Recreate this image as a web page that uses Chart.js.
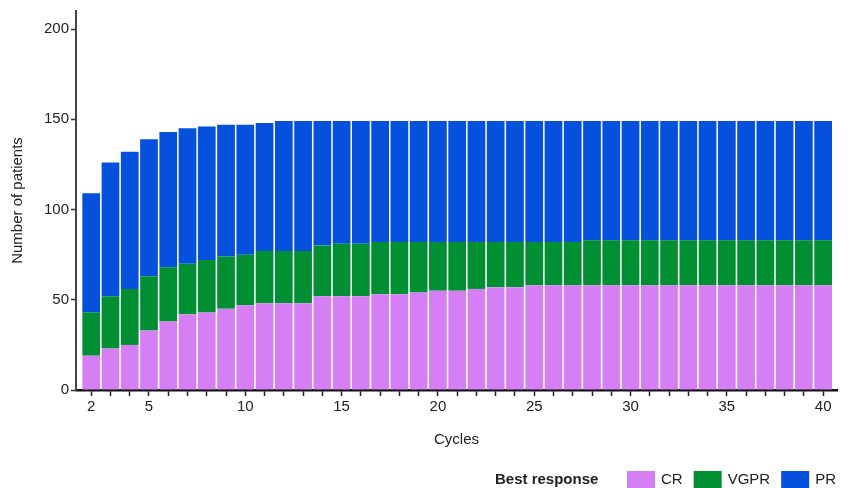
<!DOCTYPE html>
<html>
<head>
<meta charset="utf-8">
<script src="https://cdn.jsdelivr.net/npm/chart.js@4/dist/chart.umd.min.js"></script>
<style>
  html, body { margin: 0; padding: 0; background: #fff; }
  #wrap { width: 853px; height: 488px; }
</style>
</head>
<body>
<div id="wrap"><canvas id="c" width="853" height="488"></canvas></div>
<script>
// Treatment cycles
const cycles = [2,3,4,5,6,7,8,9,10,11,12,13,14,15,16,17,18,19,20,21,22,23,24,25,26,27,28,29,30,31,32,33,34,35,36,37,38,39,40];

// Patients by best response at each cycle
const crCounts   = [19,23,25,33,38,42,43,45,47,48,48,48,52,52,52,53,53,54,55,55,56,57,57,58,58,58,58,58,58,58,58,58,58,58,58,58,58,58,58];
const vgprCounts = [24,29,31,30,30,28,29,29,28,29,29,29,28,29,29,29,29,28,27,27,26,25,25,24,24,24,25,25,25,25,25,25,25,25,25,25,25,25,25];
const prCounts   = [66,74,76,76,75,75,74,73,72,71,72,72,69,68,68,67,67,67,67,67,67,67,67,67,67,67,66,66,66,66,66,66,66,66,66,66,66,66,66];

const xLabeled = [2,5,10,15,20,25,30,35,40];
const yTicks = [0,50,100,150,200];

const FONT = '"Liberation Sans", Arial, Helvetica, sans-serif';
const TEXT = '#222222';

const responseLegend = {
  id: 'responseLegend',
  afterDraw(chart) {
    const ctx = chart.ctx;
    ctx.save();
    ctx.textBaseline = 'middle';
    ctx.fillStyle = TEXT;
    ctx.font = 'bold 15px ' + FONT;
    ctx.textAlign = 'left';
    const cy = 480;
    ctx.fillText('Best response', 495, cy);
    ctx.font = '15px ' + FONT;
    let x = 627;
    chart.data.datasets.forEach(ds => {
      ctx.fillStyle = ds.backgroundColor;
      ctx.fillRect(x, cy - 9, 28, 19);
      x += 28 + 6;
      ctx.fillStyle = TEXT;
      ctx.fillText(ds.label, x, cy);
      x += ctx.measureText(ds.label).width + 11;
    });
    ctx.restore();
  }
};

new Chart(document.getElementById('c'), {
  type: 'bar',
  data: {
    labels: cycles,
    datasets: [
      { label: 'CR',   data: crCounts,   backgroundColor: '#d67ff5' },
      { label: 'VGPR', data: vgprCounts, backgroundColor: '#009033' },
      { label: 'PR',   data: prCounts,   backgroundColor: '#0550dc' }
    ]
  },
  options: {
    responsive: false,
    animation: false,
    layout: { padding: { top: 10, right: 16, left: 0, bottom: 0 } },
    datasets: { bar: { barPercentage: 0.92, categoryPercentage: 1, borderWidth: 0 } },
    plugins: { legend: { display: false }, tooltip: { enabled: false } },
    scales: {
      x: {
        type: 'linear',
        stacked: true,
        offset: false,
        min: 1.21,
        max: 40.72,
        afterFit(scale) { scale.height = 98; },
        grid: { offset: false, drawOnChartArea: false, drawTicks: true, tickLength: 6, tickColor: '#222', tickWidth: 1.5 },
        border: { display: true, color: '#111', width: 2.5 },
        ticks: {
          stepSize: 1,
          includeBounds: false,
          autoSkip: false,
          maxRotation: 0,
          padding: 2,
          color: TEXT,
          font: { family: FONT, size: 15 },
          callback: v => xLabeled.includes(v) ? String(v) : ''
        },
        title: { display: true, text: 'Cycles', color: TEXT, font: { family: FONT, size: 15 }, padding: { top: 0, bottom: 39 } }
      },
      y: {
        stacked: true,
        min: 0,
        max: 210,
        afterFit(scale) { scale.width = 76; },
        afterBuildTicks(scale) { scale.ticks = yTicks.map(v => ({ value: v })); },
        grid: { drawOnChartArea: false, drawTicks: true, tickLength: 5, tickColor: '#333', tickWidth: 1.5 },
        border: { display: true, color: '#444', width: 2 },
        ticks: { padding: 2, color: TEXT, font: { family: FONT, size: 15 } },
        title: { display: true, text: 'Number of patients', color: TEXT, font: { family: FONT, size: 15 }, padding: { top: 9, bottom: 0 } }
      }
    }
  },
  plugins: [responseLegend]
});
</script>
</body>
</html>
